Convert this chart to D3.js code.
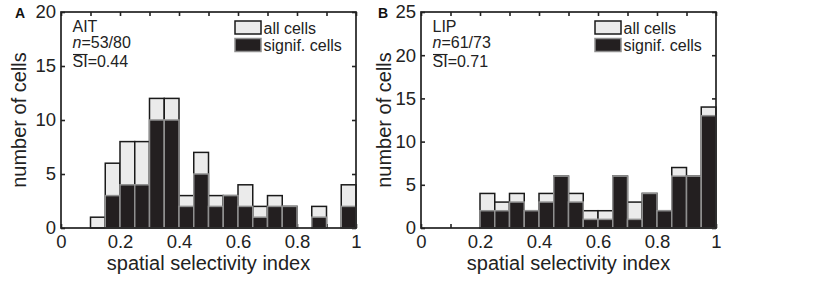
<!DOCTYPE html>
<html>
<head>
<meta charset="utf-8">
<script src="https://cdn.jsdelivr.net/npm/d3@7"></script>
<style>
  body { margin: 0; background: #fff; }
  svg { display: block; font-family: "Liberation Sans", Arial, Helvetica, sans-serif; }
</style>
</head>
<body>
<div id="chart"></div>
<script>
// histogram bins (left edge of each 0.05-wide bin)
var binStarts = [0, 0.05, 0.1, 0.15, 0.2, 0.25, 0.3, 0.35, 0.4, 0.45,
                 0.5, 0.55, 0.6, 0.65, 0.7, 0.75, 0.8, 0.85, 0.9, 0.95];
var binWidth = 0.05;

// AIT counts
var aitAll = [0, 0, 1, 6, 8, 8, 12, 12, 3, 7, 3, 3, 4, 2, 3, 2, 0, 2, 0, 4];
var aitSig = [0, 0, 0, 3, 4, 4, 10, 10, 2, 5, 2, 3, 2, 1, 2, 2, 0, 1, 0, 2];

// LIP counts
var lipAll = [0, 0, 0, 0, 4, 3, 4, 2, 4, 6, 4, 2, 2, 6, 3, 4, 2, 7, 6, 14];
var lipSig = [0, 0, 0, 0, 2, 2, 3, 2, 3, 6, 3, 1, 1, 6, 1, 4, 2, 6, 6, 13];

var xTicks = [0, 0.1, 0.2, 0.3, 0.4, 0.5, 0.6, 0.7, 0.8, 0.9, 1];
var xLabels = [0, 0.2, 0.4, 0.6, 0.8, 1];
var aitYTicks = [0, 5, 10, 15, 20];
var lipYTicks = [0, 5, 10, 15, 20, 25];

var width = 840, height = 281;
var plotTop = 12, plotBottom = 228, plotW = 295;

var svg = d3.select("#chart").append("svg").attr("width", width).attr("height", height);

function styleAxis(g, showText) {
    g.select(".domain").remove();
    g.selectAll(".tick line").attr("stroke", "#222").attr("stroke-width", 1.6);
    g.selectAll(".tick text").attr("fill", "#222").style("font-size", "18.5px");
    if (!showText) g.selectAll(".tick text").remove();
}

function drawPanel(cfg) {
    var x = d3.scaleLinear().domain([0, 1]).range([cfg.left, cfg.left + plotW]);
    var y = d3.scaleLinear().domain([0, cfg.yMax]).range([plotBottom, plotTop]);
    var g = svg.append("g");

    var fmt = d3.format("~g");
    // inward ticks on all four sides
    g.append("g").attr("transform", "translate(0," + plotBottom + ")")
        .call(d3.axisBottom(x).tickValues(xTicks).tickSize(-4).tickPadding(7)
            .tickFormat(function (d) { return xLabels.indexOf(d) >= 0 ? fmt(d) : ""; }))
        .call(styleAxis, true);
    g.append("g").attr("transform", "translate(0," + plotTop + ")")
        .call(d3.axisTop(x).tickValues(xTicks).tickSize(-4).tickFormat(""))
        .call(styleAxis, false);
    g.append("g").attr("transform", "translate(" + cfg.left + ",0)")
        .call(d3.axisLeft(y).tickValues(cfg.yTicks).tickSize(-4).tickPadding(5))
        .call(styleAxis, true);
    g.append("g").attr("transform", "translate(" + (cfg.left + plotW) + ",0)")
        .call(d3.axisRight(y).tickValues(cfg.yTicks).tickSize(-4).tickFormat(""))
        .call(styleAxis, false);

    // all cells bars
    var allData = binStarts.map(function (b, i) { return {b: b, v: cfg.all[i]}; }).filter(function (d) { return d.v > 0; });
    g.selectAll(".barAll").data(allData).enter().append("rect")
        .attr("class", "barAll")
        .attr("x", function (d) { return x(d.b); })
        .attr("y", function (d) { return y(d.v); })
        .attr("width", function (d) { return x(d.b + binWidth) - x(d.b); })
        .attr("height", function (d) { return plotBottom - y(d.v); })
        .attr("fill", "#ebebeb").attr("stroke", "#1a1a1a").attr("stroke-width", 1.5);

    // significant cells bars
    var sigData = binStarts.map(function (b, i) { return {b: b, v: cfg.sig[i]}; }).filter(function (d) { return d.v > 0; });
    g.selectAll(".barSig").data(sigData).enter().append("rect")
        .attr("class", "barSig")
        .attr("x", function (d) { return x(d.b); })
        .attr("y", function (d) { return y(d.v); })
        .attr("width", function (d) { return x(d.b + binWidth) - x(d.b); })
        .attr("height", function (d) { return plotBottom - y(d.v); })
        .attr("fill", "#231f20").attr("stroke", "#8f8f8f").attr("stroke-width", 1.5);

    // frame
    g.append("rect").attr("x", cfg.left).attr("y", plotTop).attr("width", plotW).attr("height", plotBottom - plotTop)
        .attr("fill", "none").attr("stroke", "#222").attr("stroke-width", 1.7);

    // annotation
    var ax = cfg.left + 11.5;
    g.append("text").attr("x", ax).attr("y", 32).style("font-size", "16px").attr("fill", "#222").text(cfg.area);
    var t2 = g.append("text").attr("x", ax).attr("y", 48).style("font-size", "16px").attr("fill", "#222");
    t2.append("tspan").style("font-style", "italic").text("n");
    t2.append("tspan").text("=" + cfg.n);
    var t3 = g.append("text").attr("x", ax).attr("y", 67).style("font-size", "16px").attr("fill", "#222");
    var si = t3.append("tspan").text("SI");
    t3.append("tspan").text("=" + cfg.si);
    var siW = si.node().getComputedTextLength();
    g.append("line").attr("x1", ax + 0.5).attr("x2", ax + siW).attr("y1", 54.5).attr("y2", 54.5)
        .attr("stroke", "#222").attr("stroke-width", 1.1);

    // legend
    var lx = cfg.left + 174;
    g.append("rect").attr("x", lx).attr("y", 21).attr("width", 26).attr("height", 13)
        .attr("fill", "#ebebeb").attr("stroke", "#1a1a1a").attr("stroke-width", 1.5);
    g.append("rect").attr("x", lx).attr("y", 38.5).attr("width", 26).attr("height", 13)
        .attr("fill", "#231f20").attr("stroke", "#8f8f8f").attr("stroke-width", 1.5);
    g.append("text").attr("x", lx + 28.5).attr("y", 33.5).style("font-size", "16px").attr("fill", "#222").text("all cells");
    g.append("text").attr("x", lx + 28.5).attr("y", 50.5).style("font-size", "16px").attr("fill", "#222").text("signif. cells");

    // axis titles
    g.append("text").attr("x", cfg.left + plotW / 2).attr("y", 270).attr("text-anchor", "middle")
        .style("font-size", "20px").attr("fill", "#222").text("spatial selectivity index");
    g.append("text").attr("transform", "translate(" + cfg.yLabelX + "," + ((plotTop + plotBottom) / 2) + ") rotate(-90)")
        .attr("text-anchor", "middle").style("font-size", "20px").attr("fill", "#222").text("number of cells");

    // panel letter
    g.append("text").attr("x", cfg.letterX).attr("y", 18).style("font-size", "14px").style("font-weight", "bold")
        .attr("fill", "#111").text(cfg.letter);
}

drawPanel({left: 61, yMax: 20, yTicks: aitYTicks, all: aitAll, sig: aitSig, area: "AIT", n: "53/80", si: "0.44",
    yLabelX: 26, letter: "A", letterX: 15});
drawPanel({left: 421, yMax: 25, yTicks: lipYTicks, all: lipAll, sig: lipSig, area: "LIP", n: "61/73", si: "0.71",
    yLabelX: 391, letter: "B", letterX: 378});
</script>
</body>
</html>
